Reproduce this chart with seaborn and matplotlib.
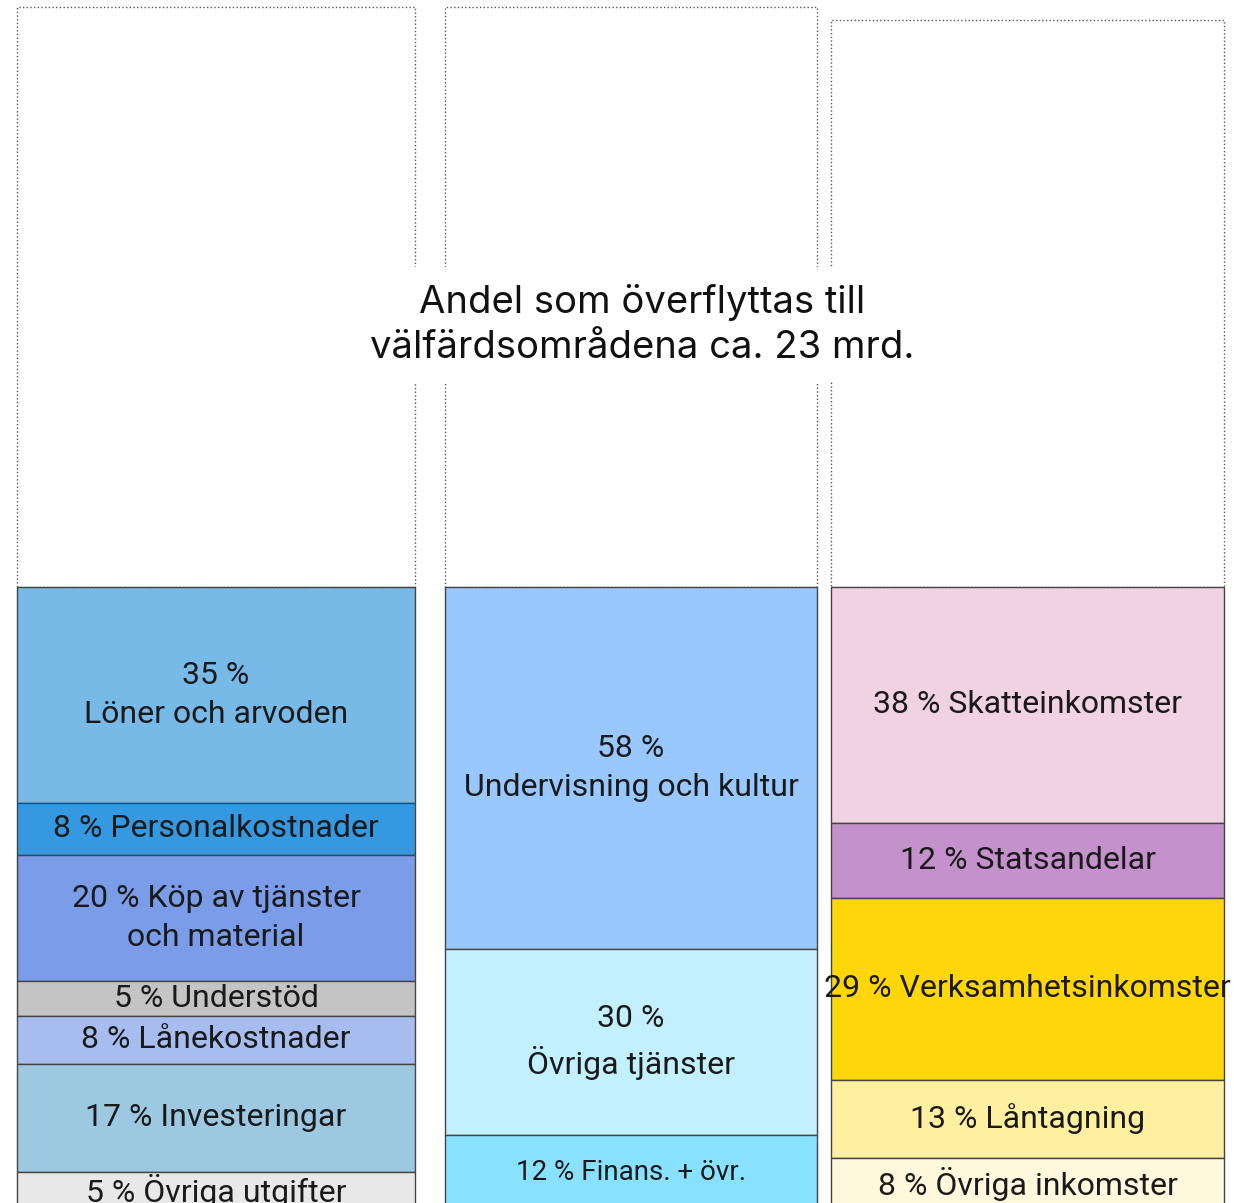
import numpy as np
import seaborn as sns
import matplotlib.pyplot as plt

sns.set_theme(style="white")
plt.rcParams['font.family'] = ['Roboto', 'DejaVu Sans']

# share transferred (white dotted box above each column)
transfer = [92.9, 92.9, 90.9]

# column 1: utgifter
exp_labels = ["35 %\nLöner och arvoden", "8 % Personalkostnader",
              "20 % Köp av tjänster\noch material", "5 % Understöd",
              "8 % Lånekostnader", "17 % Investeringar", "5 % Övriga utgifter"]
exp_values = [34.6, 8.3, 20.2, 5.6, 7.7, 17.3, 6.3]
exp_colors = ["#77b9e7", "#3499e0", "#7b9ce8", "#c4c4c4",
              "#a7bdf0", "#9dc8e2", "#e8e8e8"]

# column 2: verksamhet
act_labels = ["58 %\nUndervisning och kultur", "30 %\nÖvriga tjänster",
              "12 % Finans. + övr."]
act_values = [58.0, 29.8, 12.2]
act_colors = ["#99c8ff", "#c3f0ff", "#88e2ff"]

# column 3: inkomster
inc_labels = ["38 % Skatteinkomster", "12 % Statsandelar",
              "29 % Verksamhetsinkomster", "13 % Låntagning",
              "8 % Övriga inkomster"]
inc_values = [37.8, 12.0, 29.2, 12.5, 8.5]
inc_colors = ["#f0d2e2", "#c591cd", "#ffd60a", "#ffefa0", "#fff8dd"]

columns = [(exp_labels, exp_values, exp_colors),
           (act_labels, act_values, act_colors),
           (inc_labels, inc_values, inc_colors)]

# layout (pixel-like x units)
lefts = [17, 445, 831]
widths = [398, 372, 393]
label_sizes = [[23] * 7, [23, 23, 20], [23] * 5]

fig = plt.figure(figsize=(12.34, 12.03), dpi=100)
ax = fig.add_axes([0, 0, 1, 1])

for i, (labels, values, colors) in enumerate(columns):
    x = lefts[i] + widths[i] / 2
    ax.bar(x, transfer[i], bottom=100, width=widths[i], color="white",
           edgecolor="#555555", linestyle=":", linewidth=1.0, zorder=1)
    tops = 100 - np.concatenate([[0], np.cumsum(values)[:-1]])
    for lab, v, c, t, fs in zip(labels, values, colors, tops, label_sizes[i]):
        ax.bar(x, v, bottom=t - v, width=widths[i], color=c,
               edgecolor="#444444", linewidth=1.0, zorder=2)
        ax.text(x, t - v / 2, lab, ha="center", va="center", fontsize=fs,
                color="#1a1a1a", linespacing=1.45, zorder=3)

ax.text(642, 142.0, "Andel som överflyttas till\nvälfärdsområdena ca. 23 mrd.",
        ha="center", va="center", fontsize=27.5, color="#111111",
        family=["Inter", "DejaVu Sans"], linespacing=1.3, zorder=4,
        bbox=dict(facecolor="white", edgecolor="none", pad=12))

ax.set_xlim(0, 1234)
ax.set_ylim(1.28, 194.07)
ax.axis("off")

plt.savefig("out.png", dpi=100)
